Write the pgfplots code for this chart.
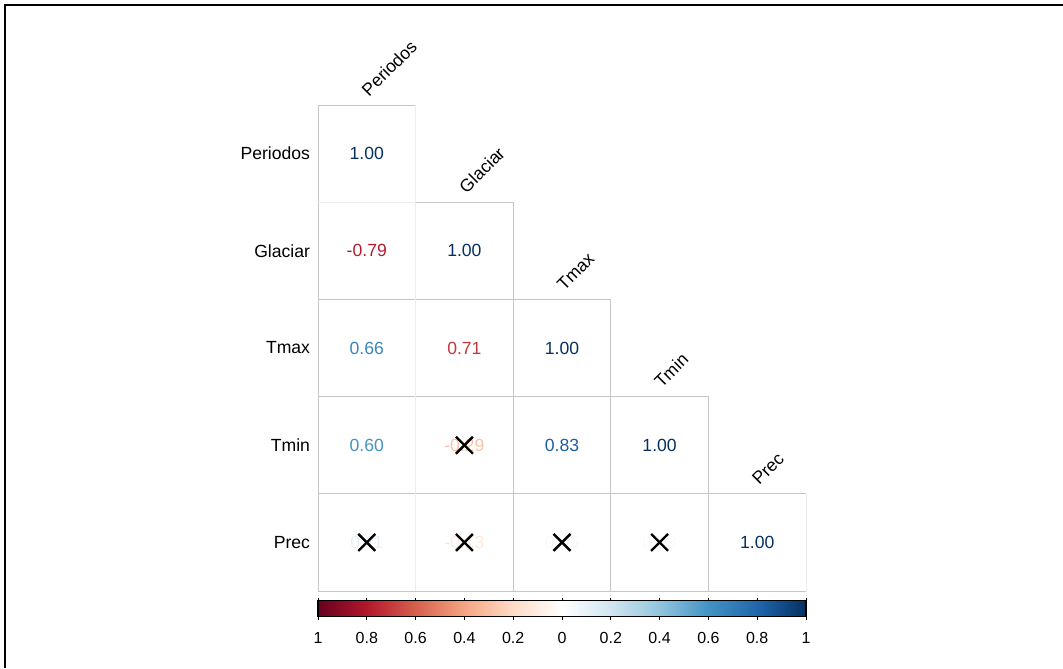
\documentclass[border=0pt]{standalone}
\usepackage{fontspec}
\setmainfont{Liberation Sans}
\usepackage{pgfplots}
\usepackage{pgfplotstable}
\pgfplotsset{compat=1.18}

% correlation cells: column, row, value, printed label
\pgfplotstableread{
c r v lab
0 0 1.00 1.00
0 1 -0.79 -0.79
1 1 1.00 1.00
0 2 0.66 0.66
1 2 -0.71 0.71
2 2 1.00 1.00
0 3 0.60 0.60
1 3 -0.29 -0.29
2 3 0.83 0.83
3 3 1.00 1.00
0 4 0.11 0.11
1 4 -0.13 -0.13
2 4 0.05 0.05
3 4 0.03 0.03
4 4 1.00 1.00
}\corrcells

% non-significant correlations, crossed out
\pgfplotstableread{
c r
1 3
0 4
1 4
2 4
3 4
}\insignif

\tikzset{
  varname/.style={font=\fontsize{8.8}{10}\selectfont},
  rowname/.style={varname, anchor=east, inner sep=0pt, xshift=-3.8pt},
  colname/.style={varname, xshift=1pt, yshift=3.8pt, rotate=45,
    anchor=base west, inner sep=0pt},
  % text colour taken from the colormap at the coefficient value
  coefcolor/.style={/utils/exec={%
      \pgfmathtruncatemacro\cmpos{round((#1+1)*500)}%
      \pgfplotscolormapdefinemappedcolor{\cmpos}},
    text=mapped color},
}

\begin{document}
\begin{tikzpicture}
\useasboundingbox (0,0) rectangle (531.5pt,334pt);
\draw[line width=1.1pt] (2.4pt,0) -- (2.4pt,331.5pt) -- (531.5pt,331.5pt);

\begin{axis}[
  at={(159pt,38.5pt)}, anchor=south west,
  scale only axis, width=244pt, height=243pt,
  xmin=-0.5, xmax=4.5, ymin=-0.5, ymax=4.5, y dir=reverse,
  axis line style={draw=none}, xtick=\empty, ytick=\empty,
  clip=false,
  colormap={rdbu}{rgb255=(103,0,31) rgb255=(178,24,43) rgb255=(214,96,77)
    rgb255=(244,165,130) rgb255=(253,219,199) rgb255=(255,255,255)
    rgb255=(209,229,240) rgb255=(146,197,222) rgb255=(67,147,195)
    rgb255=(33,102,172) rgb255=(5,48,97)},
  point meta min=-1, point meta max=1,
  colorbar horizontal,
  colorbar style={
    at={(parent axis.south west)}, anchor=north west, yshift=3.6pt,
    scale only axis, width=244pt, height=8pt,
    xtick={-1,-0.8,-0.6,-0.4,-0.2,0,0.2,0.4,0.6,0.8,1},
    xticklabels={1,0.8,0.6,0.4,0.2,0,0.2,0.4,0.6,0.8,1},
    xticklabel style={font=\fontsize{8}{9}\selectfont, yshift=-2.5pt},
    tick align=outside, major tick length=1.6pt,
    tick style={black, line width=0.5pt},
    axis line style={black, line width=0.6pt},
  },
]
% cell borders
\draw[gray!45, line width=0.5pt]
  (axis cs:-0.5,-0.5) -- (axis cs:-0.5,4.5) -- (axis cs:4.5,4.5)
  (axis cs:-0.5,-0.5) -- (axis cs:0.5,-0.5)
  (axis cs:0.5,0.5) -- (axis cs:1.5,0.5) -- (axis cs:1.5,4.5)
  (axis cs:-0.5,1.5) -- (axis cs:2.5,1.5) -- (axis cs:2.5,4.5)
  (axis cs:-0.5,2.5) -- (axis cs:3.5,2.5) -- (axis cs:3.5,4.5)
  (axis cs:-0.5,3.5) -- (axis cs:4.5,3.5);
\draw[gray!15, line width=0.5pt]
  (axis cs:-0.5,0.5) -- (axis cs:0.5,0.5)
  (axis cs:0.5,-0.5) -- (axis cs:0.5,4.5)
  (axis cs:4.5,3.5) -- (axis cs:4.5,4.5);

% coefficients, coloured by value
\addplot[only marks, mark=none, point meta=explicit symbolic,
  visualization depends on={\thisrow{v} \as \coef},
  nodes near coords, nodes near coords align={center},
  every node near coord/.append style={font=\fontsize{8.8}{10}\selectfont,
    coefcolor=\coef}]
  table[x=c, y=r, meta=lab] {\corrcells};

% crosses over non-significant cells
\addplot[only marks, mark=x, mark size=6pt, line width=1.2pt, black]
  table[x=c, y=r] {\insignif};

% variable names
\node[rowname] at (axis cs:-0.5,0) {Periodos};
\node[rowname] at (axis cs:-0.5,1) {Glaciar};
\node[rowname] at (axis cs:-0.5,2) {Tmax};
\node[rowname] at (axis cs:-0.5,3) {Tmin};
\node[rowname] at (axis cs:-0.5,4) {Prec};
\node[colname] at (axis cs:0,-0.5) {Periodos};
\node[colname] at (axis cs:1,0.5) {Glaciar};
\node[colname] at (axis cs:2,1.5) {Tmax};
\node[colname] at (axis cs:3,2.5) {Tmin};
\node[colname] at (axis cs:4,3.5) {Prec};
\end{axis}
\end{tikzpicture}
\end{document}
